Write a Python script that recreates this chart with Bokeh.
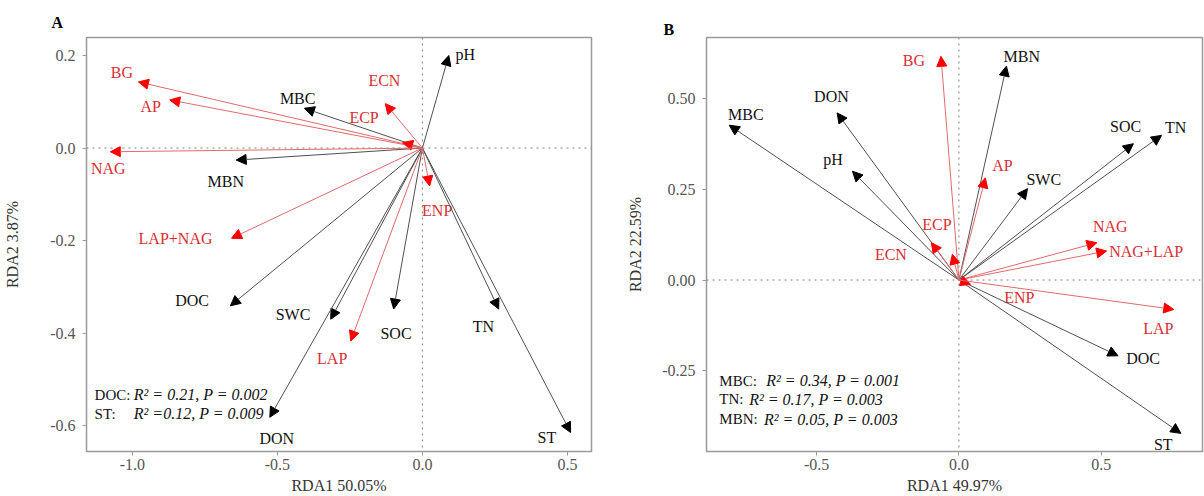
import math
from bokeh.plotting import figure
from bokeh.models import ColumnDataSource, Arrow, NormalHead, Span, FixedTicker, PrintfTickFormatter, Range1d
from bokeh.layouts import row
from bokeh.core.properties import value
from bokeh.embed import file_html
from bokeh.resources import INLINE

FONT = "Liberation Serif"
RED_TXT = "#DB2D33"
BLK_TXT = "#111111"

# ---------------- Panel A data ----------------
a_names = ["pH", "BG", "AP", "MBC", "ECN", "ECP", "NAG", "MBN", "ENP", "LAP+NAG",
           "DOC", "SWC", "LAP", "SOC", "TN", "DON", "ST"]
a_kind = ["env", "enz", "enz", "env", "enz", "enz", "enz", "env", "enz", "enz",
          "env", "env", "enz", "env", "env", "env", "env"]
a_rda1 = [0.091, -0.979, -0.871, -0.407, -0.128, -0.068, -1.076, -0.642, 0.025, -0.658,
          -0.662, -0.316, -0.247, -0.099, 0.263, -0.526, 0.511]
a_rda2 = [0.200, 0.143, 0.104, 0.086, 0.096, 0.012, -0.008, -0.026, -0.082, -0.195,
          -0.341, -0.370, -0.417, -0.348, -0.348, -0.582, -0.615]
a_lab_x = [0.148, -1.036, -0.937, -0.430, -0.131, -0.201, -1.083, -0.678, 0.051, -0.851,
           -0.794, -0.446, -0.311, -0.091, 0.210, -0.502, 0.429]
a_lab_y = [0.203, 0.163, 0.089, 0.107, 0.147, 0.066, -0.044, -0.073, -0.136, -0.195,
           -0.330, -0.360, -0.456, -0.401, -0.386, -0.627, -0.626]
a_note_keys = ["DOC:", "ST:"]
a_note_vals = ["R\u00b2 = 0.21, P = 0.002", "R\u00b2 =0.12, P = 0.009"]
a_note_kx = [-1.130, -1.130]
a_note_vx = [-0.995, -0.995]
a_note_y = [-0.533, -0.574]
a_xticks = [-1.0, -0.5, 0.0, 0.5]
a_yticks = [-0.6, -0.4, -0.2, 0.0, 0.2]
a_xlabel = "RDA1 50.05%"
a_ylabel = "RDA2 3.87%"

# ---------------- Panel B data ----------------
b_names = ["BG", "MBN", "DON", "MBC", "pH", "AP", "SWC", "SOC", "TN", "ECP", "ECN",
           "NAG", "NAG+LAP", "ENP", "LAP", "DOC", "ST"]
b_kind = ["enz", "env", "env", "env", "env", "enz", "env", "env", "env", "enz", "enz",
          "enz", "enz", "enz", "enz", "env", "env"]
b_rda1 = [-0.063, 0.167, -0.428, -0.807, -0.374, 0.093, 0.241, 0.613, 0.712, -0.097, -0.023,
          0.485, 0.519, 0.041, 0.755, 0.559, 0.780]
b_rda2 = [0.617, 0.590, 0.461, 0.427, 0.300, 0.282, 0.252, 0.376, 0.399, 0.103, 0.071,
          0.103, 0.080, -0.012, -0.081, -0.209, -0.423]
b_lab_x = [-0.158, 0.221, -0.448, -0.749, -0.442, 0.153, 0.298, 0.586, 0.762, -0.077, -0.239,
           0.532, 0.658, 0.212, 0.701, 0.647, 0.718]
b_lab_y = [0.605, 0.617, 0.507, 0.456, 0.332, 0.317, 0.277, 0.424, 0.421, 0.153, 0.071,
           0.149, 0.078, -0.047, -0.133, -0.216, -0.453]
b_note_keys = ["MBC:", "TN:", "MBN:"]
b_note_vals = ["R\u00b2 = 0.34, P = 0.001", "R\u00b2 = 0.17, P = 0.003", "R\u00b2 = 0.05, P = 0.003"]
b_note_kx = [-0.842, -0.842, -0.842]
b_note_vx = [-0.677, -0.737, -0.685]
b_note_y = [-0.278, -0.329, -0.384]
b_xticks = [-0.5, 0.0, 0.5]
b_yticks = [-0.25, 0.0, 0.25, 0.5]
b_xlabel = "RDA1 49.97%"
b_ylabel = "RDA2 22.59%"


def make_panel(names, kind, px, py, lx, ly, nk, nv, nkx, nvx, ny,
               xticks, yticks, xfmt, yfmt, xlabel, ylabel, letter,
               xr, yr, width, borders, ylab_standoff, title_offset, title_standoff):
    left, right, top, bottom = borders
    p = figure(width=width, height=496, output_backend="svg", toolbar_location=None,
               x_range=Range1d(*xr), y_range=Range1d(*yr),
               min_border_left=left, min_border_right=right,
               min_border_top=top, min_border_bottom=bottom)
    p.grid.visible = False
    p.outline_line_color = "#9a9a9a"
    p.outline_line_width = 1.5
    p.background_fill_color = "white"
    p.border_fill_color = "white"

    p.title.text = letter
    p.title.text_font = FONT
    p.title.text_font_size = "16px"
    p.title.text_font_style = "bold"
    p.title.text_color = "#000000"
    p.title.align = "left"
    p.title.offset = title_offset
    p.title.standoff = title_standoff

    for ax, ticks, fmt in ((p.xaxis, xticks, xfmt), (p.yaxis, yticks, yfmt)):
        ax.ticker = FixedTicker(ticks=ticks)
        ax.formatter = PrintfTickFormatter(format=fmt)
        ax.major_tick_out = 4
        ax.major_tick_in = 0
        ax.minor_tick_out = 0
        ax.minor_tick_in = 0
        ax.axis_line_color = "#9a9a9a"
        ax.major_tick_line_color = "#9a9a9a"
        ax.major_label_text_font = FONT
        ax.major_label_text_font_size = "16px"
        ax.major_label_text_color = "#555555"
        ax.axis_label_text_font = FONT
        ax.axis_label_text_font_size = "16px"
        ax.axis_label_text_font_style = "normal"
        ax.axis_label_text_color = "#333333"
    p.xaxis.axis_label = xlabel
    p.yaxis.axis_label = ylabel
    p.xaxis.major_label_standoff = 3
    p.xaxis.axis_label_standoff = 4
    p.yaxis.major_label_standoff = 7
    p.yaxis.axis_label_standoff = ylab_standoff

    # zero reference lines
    for dim in ("width", "height"):
        p.add_layout(Span(location=0, dimension=dim, line_color="#808080",
                          line_width=1, line_dash="2 4"))

    # arrows
    for k, lc, hc in (("env", "#505050", "#000000"), ("enz", "#E26A6A", "#FF0000")):
        idx = [i for i, t in enumerate(kind) if t == k]
        src = ColumnDataSource(dict(x0=[0.0] * len(idx), y0=[0.0] * len(idx),
                                    x1=[px[i] for i in idx], y1=[py[i] for i in idx]))
        p.add_layout(Arrow(end=NormalHead(size=10, fill_color=hc, line_color=hc, line_width=1),
                           x_start="x0", y_start="y0", x_end="x1", y_end="y1",
                           source=src, line_color=lc, line_width=1))

    # arrow labels
    cols = [BLK_TXT if k == "env" else RED_TXT for k in kind]
    lsrc = ColumnDataSource(dict(x=lx, y=ly, t=names, c=cols))
    p.text(x="x", y="y", text="t", text_color="c", source=lsrc,
           text_font=value(FONT), text_font_size="16px",
           text_align="center", text_baseline="middle")

    # R2 notes
    p.text(x=nkx, y=ny, text=nk, text_color=BLK_TXT, text_font=value(FONT),
           text_font_size="15px", text_align="left", text_baseline="middle")
    p.text(x=nvx, y=ny, text=nv, text_color=BLK_TXT, text_font=value(FONT),
           text_font_size="16px", text_font_style="italic",
           text_align="left", text_baseline="middle")
    return p


pA = make_panel(a_names, a_kind, a_rda1, a_rda2, a_lab_x, a_lab_y,
                a_note_keys, a_note_vals, a_note_kx, a_note_vx, a_note_y,
                a_xticks, a_yticks, "%.1f", "%.1f", a_xlabel, a_ylabel, "A",
                (-1.158, 0.583), (-0.656, 0.239), 600, (86, 9, 37, 45),
                26, -35, 14)

pB = make_panel(b_names, b_kind, b_rda1, b_rda2, b_lab_x, b_lab_y,
                b_note_keys, b_note_vals, b_note_kx, b_note_vx, b_note_y,
                b_xticks, b_yticks, "%.1f", "%.2f", b_xlabel, b_ylabel, "B",
                (-0.887, 0.856), (-0.473, 0.669), 604, (106, 2, 36, 45),
                15, -43, 0)

layout = row(pA, pB)
open("out.html", "w").write(file_html(layout, INLINE))
